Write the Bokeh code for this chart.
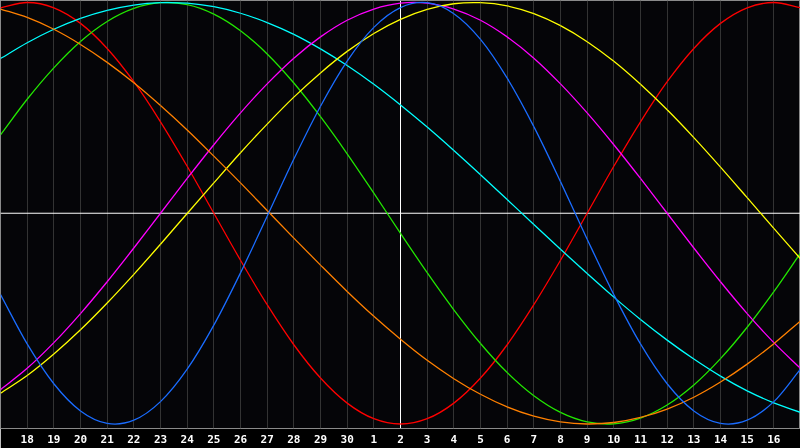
from bokeh.plotting import figure
from bokeh.models import Range1d, FixedTicker, Span, ColumnDataSource
from bokeh.embed import file_html
from bokeh.resources import INLINE

# day labels for each column (index 0..30)
days = [17, 18, 19, 20, 21, 22, 23, 24, 25, 26, 27, 28, 29, 30,
        1, 2, 3, 4, 5, 6, 7, 8, 9, 10, 11, 12, 13, 14, 15, 16, 17]
today_label = 2

# curve values read per day (-1 .. 1)
red = [0.975, 1.000, 0.975, 0.901, 0.782, 0.624, 0.434, 0.223, 0.000, -0.223, -0.434,
       -0.624, -0.782, -0.901, -0.975, -1.000, -0.975, -0.901, -0.782, -0.624, -0.434,
       -0.223, 0.000, 0.223, 0.434, 0.624, 0.782, 0.901, 0.975, 1.000, 0.975]
blue = [-0.386, -0.620, -0.809, -0.938, -0.997, -0.982, -0.894, -0.740, -0.531, -0.283, -0.014,
        0.257, 0.508, 0.722, 0.882, 0.976, 0.999, 0.947, 0.825, 0.641, 0.411,
        0.150, -0.123, -0.386, -0.620, -0.809, -0.938, -0.997, -0.982, -0.894, -0.740]
green = [0.372, 0.541, 0.690, 0.815, 0.910, 0.972, 0.999, 0.990, 0.945, 0.866, 0.756,
         0.618, 0.458, 0.282, 0.095, -0.095, -0.282, -0.458, -0.618, -0.756, -0.866,
         -0.945, -0.990, -0.999, -0.972, -0.910, -0.815, -0.690, -0.541, -0.372, -0.189]
cyan = [0.734, 0.809, 0.873, 0.925, 0.963, 0.988, 0.999, 0.997, 0.980, 0.949, 0.905,
        0.849, 0.780, 0.701, 0.612, 0.514, 0.409, 0.298, 0.183, 0.065, -0.053,
        -0.171, -0.286, -0.398, -0.504, -0.602, -0.692, -0.773, -0.843, -0.900, -0.945]
magenta = [-0.837, -0.736, -0.614, -0.476, -0.325, -0.165, 0.000, 0.165, 0.325, 0.476, 0.614,
           0.736, 0.837, 0.916, 0.969, 0.997, 0.997, 0.969, 0.916, 0.837, 0.736,
           0.614, 0.476, 0.325, 0.165, 0.000, -0.165, -0.325, -0.476, -0.614, -0.736]
yellow = [-0.854, -0.770, -0.668, -0.553, -0.426, -0.290, -0.147, -0.001, 0.144, 0.287, 0.423,
          0.551, 0.666, 0.768, 0.853, 0.920, 0.967, 0.994, 0.999, 0.984, 0.947,
          0.890, 0.814, 0.721, 0.612, 0.491, 0.359, 0.219, 0.074, -0.072, -0.216]
orange = [0.969, 0.929, 0.873, 0.801, 0.716, 0.619, 0.511, 0.395, 0.271, 0.144, 0.013,
          -0.118, -0.246, -0.371, -0.489, -0.598, -0.698, -0.785, -0.859, -0.919, -0.963,
          -0.990, -1.000, -0.993, -0.969, -0.929, -0.873, -0.801, -0.716, -0.619, -0.511]

series = [
    (red, "#ff0000"),
    (green, "#22e600"),
    (cyan, "#00ffff"),
    (magenta, "#ff00ff"),
    (yellow, "#ffff00"),
    (orange, "#ff8000"),
    (blue, "#1a6cff"),
]

n = len(days)
xs = list(range(n))
today_idx = days.index(today_label, days.index(30))

p = figure(width=800, height=448, output_backend="svg", toolbar_location=None,
           x_range=Range1d(0, n - 1), y_range=Range1d(-1.0214, 1.0095),
           min_border_left=0, min_border_right=0, min_border_top=0, min_border_bottom=20)
p.styles = {"position": "fixed", "left": "0px", "top": "0px"}

p.background_fill_color = "#050508"
p.border_fill_color = "#000000"
p.outline_line_color = "#8a8a8a"
p.outline_line_width = 1

p.yaxis.visible = False
p.ygrid.visible = False

tick_idx = xs[1:-1]
p.xaxis.ticker = FixedTicker(ticks=tick_idx)
p.xaxis.major_label_overrides = {i: str(days[i]) for i in tick_idx}
p.xaxis.axis_line_color = None
p.xaxis.major_tick_line_color = None
p.xaxis.minor_tick_line_color = None
p.xaxis.major_tick_out = 0
p.xaxis.major_tick_in = 0
p.xaxis.major_label_standoff = 6
p.xaxis.major_label_text_color = "#ffffff"
p.xaxis.major_label_text_font = "DejaVu Sans Mono"
p.xaxis.major_label_text_font_style = "bold"
p.xaxis.major_label_text_font_size = "11px"

p.xgrid.ticker = FixedTicker(ticks=tick_idx)
p.xgrid.grid_line_color = "#333333"
p.xgrid.grid_line_width = 1

p.add_layout(Span(location=0, dimension="width", line_color="#ffffff", line_width=1, level="underlay"))
p.add_layout(Span(location=today_idx, dimension="height", line_color="#ffffff", line_width=1, level="underlay"))


def smooth_segments(x, y):
    """Catmull-Rom style cubic segments through the read points (rendering only)."""
    m = len(x)
    px = [2 * x[0] - x[1]] + list(x) + [2 * x[-1] - x[-2]]
    py = [2 * y[0] - y[1]] + list(y) + [2 * y[-1] - y[-2]]
    d = dict(x0=[], y0=[], x1=[], y1=[], cx0=[], cy0=[], cx1=[], cy1=[])
    for i in range(m - 1):
        a, b, c, e = i, i + 1, i + 2, i + 3
        d["x0"].append(px[b]); d["y0"].append(py[b])
        d["x1"].append(px[c]); d["y1"].append(py[c])
        d["cx0"].append(px[b] + (px[c] - px[a]) / 6.0)
        d["cy0"].append(py[b] + (py[c] - py[a]) / 6.0)
        d["cx1"].append(px[c] - (px[e] - px[b]) / 6.0)
        d["cy1"].append(py[c] - (py[e] - py[b]) / 6.0)
    return ColumnDataSource(d)


for vals, col in series:
    src = smooth_segments(xs, vals)
    p.bezier(x0="x0", y0="y0", x1="x1", y1="y1", cx0="cx0", cy0="cy0", cx1="cx1", cy1="cy1",
             source=src, line_color=col, line_width=1.3)

open("out.html", "w").write(file_html(p, INLINE))
